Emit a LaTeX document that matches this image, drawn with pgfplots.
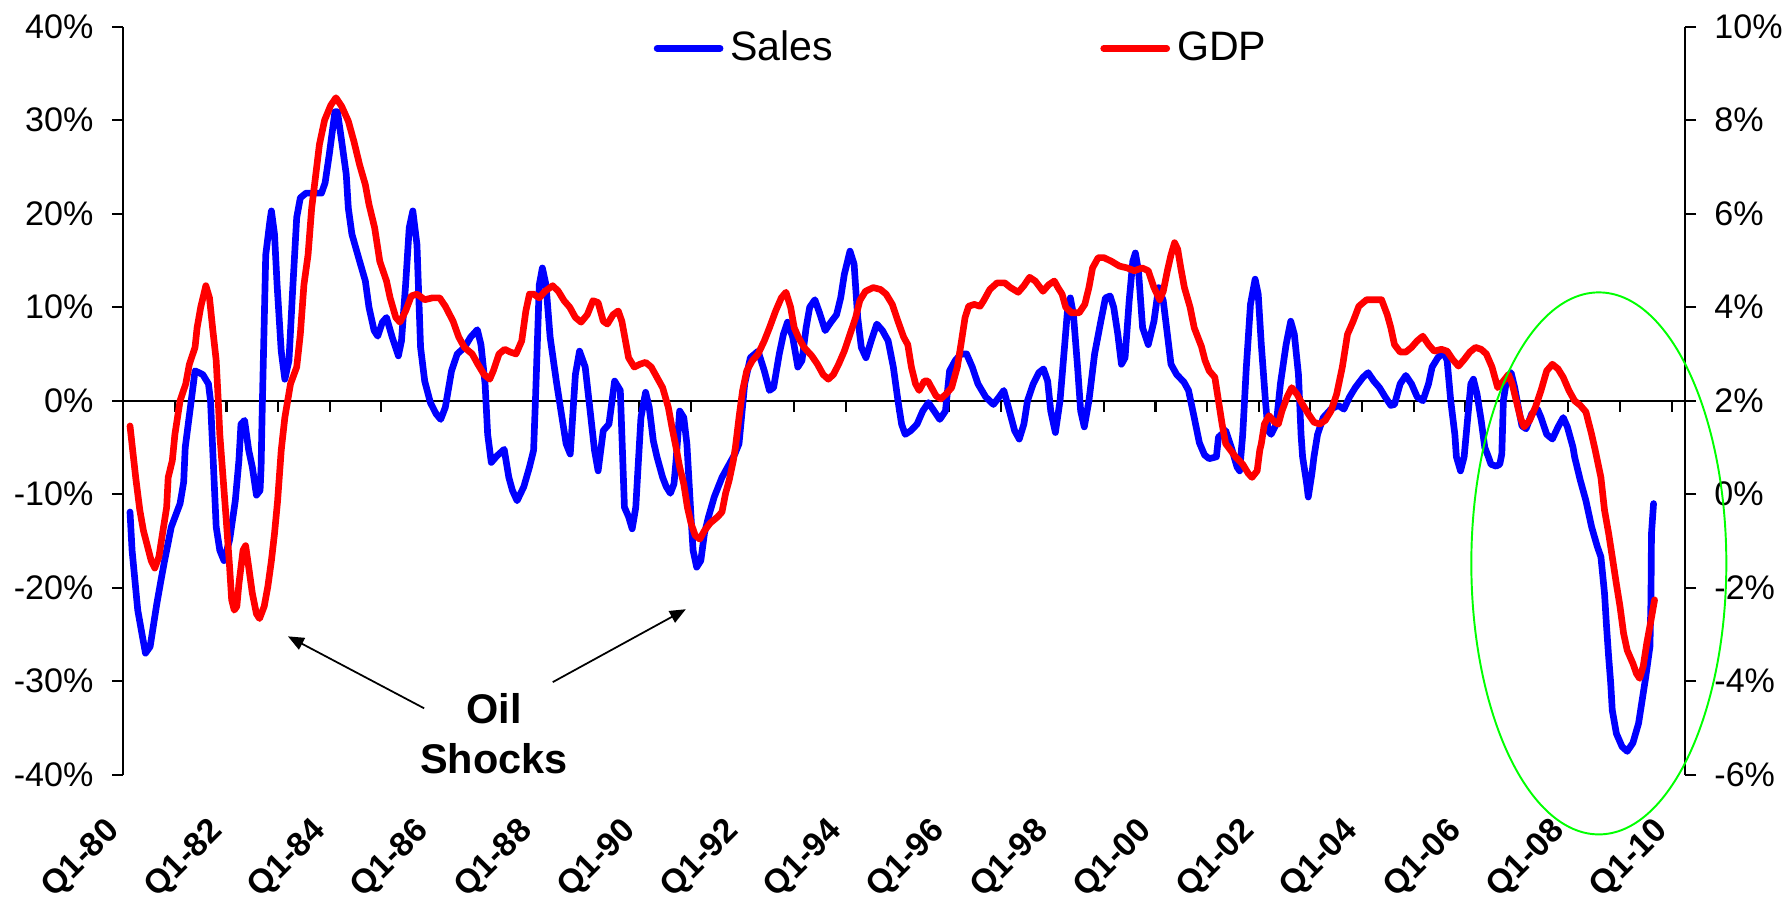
\documentclass[border=0pt]{standalone}
\usepackage{fontspec}
\setmainfont{Liberation Sans}
\usepackage{pgfplots}
\usepackage{pgfplotstable}
\pgfplotsset{compat=1.18}
\usetikzlibrary{arrows.meta}

\pgfplotstableread{
x y
1980.13 -11.9
1980.17 -16.0
1980.28 -22.4
1980.37 -25.2
1980.43 -27.0
1980.52 -26.3
1980.61 -23.1
1980.65 -21.7
1980.73 -19.2
1980.80 -17.1
1980.93 -13.5
1981.10 -11.0
1981.17 -8.7
1981.20 -5.0
1981.30 -0.7
1981.39 3.2
1981.54 2.8
1981.65 1.8
1981.69 0.0
1981.80 -13.5
1981.87 -16.0
1981.95 -17.1
1982.06 -14.9
1982.17 -10.7
1982.24 -6.4
1982.28 -2.5
1982.35 -2.1
1982.43 -5.3
1982.50 -7.1
1982.58 -10.1
1982.65 -9.6
1982.67 -7.1
1982.69 -1.4
1982.76 15.6
1982.84 19.2
1982.87 20.3
1982.93 17.8
1982.98 12.4
1983.06 5.3
1983.13 2.3
1983.21 4.3
1983.28 11.7
1983.36 19.6
1983.43 21.7
1983.54 22.2
1983.84 22.2
1983.91 23.3
1983.99 26.3
1984.10 30.9
1984.15 30.9
1984.24 27.4
1984.32 24.2
1984.36 20.6
1984.43 17.8
1984.58 14.9
1984.69 12.8
1984.76 10.0
1984.86 7.5
1984.93 6.9
1985.02 8.4
1985.10 8.9
1985.21 6.8
1985.33 4.8
1985.39 6.4
1985.47 12.4
1985.54 18.5
1985.61 20.3
1985.69 16.7
1985.76 5.7
1985.84 2.1
1985.95 -0.2
1986.06 -1.4
1986.15 -2.0
1986.24 -0.7
1986.36 3.2
1986.47 5.0
1986.61 5.7
1986.73 6.8
1986.86 7.6
1986.93 6.0
1987.01 1.8
1987.06 -3.6
1987.13 -6.6
1987.24 -5.9
1987.38 -5.2
1987.47 -8.2
1987.54 -9.6
1987.63 -10.7
1987.76 -9.2
1987.87 -7.1
1987.95 -5.3
1987.99 0.7
1988.06 12.4
1988.12 14.2
1988.19 12.4
1988.27 6.8
1988.39 2.1
1988.50 -1.8
1988.58 -4.6
1988.66 -5.7
1988.76 2.8
1988.84 5.3
1988.95 3.6
1989.06 -1.8
1989.13 -5.3
1989.20 -7.5
1989.30 -3.2
1989.41 -2.5
1989.52 2.1
1989.63 1.1
1989.71 -11.4
1989.79 -12.4
1989.86 -13.7
1989.93 -11.4
1989.97 -7.5
1990.03 -1.8
1990.12 0.9
1990.19 -0.7
1990.27 -4.3
1990.34 -6.0
1990.45 -8.2
1990.52 -9.2
1990.60 -9.9
1990.67 -8.9
1990.71 -6.4
1990.78 -1.1
1990.86 -1.8
1990.92 -4.6
1991.00 -12.4
1991.04 -16.0
1991.11 -17.8
1991.19 -17.1
1991.26 -14.2
1991.34 -12.4
1991.45 -10.3
1991.60 -8.2
1991.74 -6.8
1991.85 -5.7
1991.93 -4.6
1992.04 1.8
1992.15 4.6
1992.30 5.3
1992.42 3.2
1992.52 1.1
1992.60 1.4
1992.71 5.0
1992.79 7.1
1992.87 8.4
1992.97 6.8
1993.07 3.6
1993.15 4.3
1993.23 7.8
1993.30 10.0
1993.40 10.8
1993.49 9.4
1993.60 7.5
1993.71 8.4
1993.82 9.2
1993.90 11.0
1993.97 13.5
1994.08 16.0
1994.16 14.6
1994.23 8.9
1994.30 5.7
1994.39 4.6
1994.49 6.4
1994.60 8.2
1994.71 7.5
1994.82 6.4
1994.92 3.6
1995.01 0.0
1995.08 -2.5
1995.15 -3.6
1995.26 -3.2
1995.38 -2.5
1995.49 -1.1
1995.60 -0.2
1995.71 -1.1
1995.82 -2.0
1995.93 -1.1
1996.01 3.2
1996.12 4.3
1996.23 5.0
1996.34 5.0
1996.45 3.6
1996.56 1.8
1996.71 0.4
1996.86 -0.4
1996.97 0.4
1997.06 1.1
1997.15 -0.7
1997.27 -3.2
1997.36 -4.1
1997.45 -2.5
1997.52 0.0
1997.63 1.8
1997.74 3.0
1997.83 3.4
1997.91 2.1
1997.97 -1.1
1998.06 -3.4
1998.15 0.0
1998.23 5.3
1998.30 10.0
1998.35 11.0
1998.41 9.2
1998.49 3.6
1998.55 -1.1
1998.62 -2.8
1998.71 0.0
1998.82 5.0
1998.93 8.2
1999.03 11.0
1999.12 11.2
1999.19 10.0
1999.27 7.1
1999.34 3.9
1999.41 4.6
1999.49 10.7
1999.56 14.9
1999.61 15.8
1999.67 13.9
1999.75 7.8
1999.86 6.0
1999.97 8.5
2000.06 12.1
2000.15 10.7
2000.23 7.1
2000.30 3.9
2000.41 2.8
2000.55 2.0
2000.64 1.1
2000.75 -1.8
2000.85 -4.5
2000.95 -5.8
2001.04 -6.2
2001.18 -6.0
2001.22 -3.9
2001.36 -3.2
2001.47 -5.0
2001.58 -7.1
2001.63 -7.5
2001.69 -3.6
2001.76 3.6
2001.84 10.3
2001.93 13.0
2001.99 11.4
2002.05 6.0
2002.13 0.0
2002.18 -3.2
2002.24 -3.6
2002.34 -2.5
2002.42 1.8
2002.53 6.0
2002.62 8.5
2002.69 7.1
2002.77 2.8
2002.82 -3.6
2002.85 -6.0
2002.93 -8.9
2002.96 -10.3
2003.03 -7.8
2003.07 -6.0
2003.14 -3.6
2003.25 -1.8
2003.40 -0.9
2003.54 -0.5
2003.65 -0.9
2003.76 0.4
2003.87 1.4
2004.02 2.5
2004.12 3.0
2004.23 2.1
2004.34 1.4
2004.45 0.4
2004.56 -0.5
2004.63 -0.4
2004.74 1.8
2004.85 2.7
2004.96 1.8
2005.07 0.4
2005.18 0.0
2005.29 1.8
2005.36 3.6
2005.47 4.6
2005.58 5.2
2005.65 4.3
2005.72 0.0
2005.80 -3.6
2005.83 -6.0
2005.91 -7.5
2005.98 -6.0
2006.05 -1.8
2006.11 1.8
2006.16 2.3
2006.23 0.7
2006.31 -2.1
2006.38 -5.0
2006.45 -6.0
2006.50 -6.8
2006.60 -7.0
2006.67 -6.8
2006.71 -5.7
2006.74 0.0
2006.81 2.5
2006.89 3.0
2006.96 1.4
2007.03 -0.7
2007.10 -2.7
2007.18 -3.0
2007.29 -1.4
2007.40 -0.9
2007.47 -1.8
2007.58 -3.6
2007.69 -4.1
2007.80 -2.8
2007.90 -1.8
2007.98 -2.8
2008.09 -5.0
2008.12 -6.0
2008.23 -8.5
2008.34 -10.7
2008.45 -13.5
2008.56 -15.6
2008.63 -16.7
2008.70 -20.6
2008.74 -24.2
2008.78 -27.4
2008.82 -30.2
2008.85 -33.1
2008.93 -35.6
2009.04 -37.0
2009.14 -37.5
2009.25 -36.6
2009.36 -34.5
2009.43 -32.0
2009.50 -29.5
2009.58 -26.3
2009.60 -21.3
2009.61 -14.2
2009.65 -11.0
}\salestable

\pgfplotstableread{
x y
1980.13 1.46
1980.24 0.36
1980.32 -0.34
1980.39 -0.78
1980.47 -1.12
1980.54 -1.42
1980.61 -1.58
1980.69 -1.34
1980.76 -0.84
1980.84 -0.28
1980.87 0.36
1980.95 0.72
1981.00 1.28
1981.10 2.00
1981.21 2.36
1981.28 2.78
1981.39 3.14
1981.43 3.56
1981.50 4.00
1981.60 4.46
1981.67 4.20
1981.73 3.56
1981.80 2.86
1981.84 2.00
1981.87 1.28
1981.99 -0.48
1982.06 -1.56
1982.10 -2.26
1982.15 -2.48
1982.20 -2.40
1982.24 -1.92
1982.32 -1.20
1982.37 -1.10
1982.43 -1.56
1982.50 -2.12
1982.58 -2.56
1982.64 -2.66
1982.73 -2.40
1982.80 -1.98
1982.87 -1.42
1982.93 -0.84
1982.99 -0.14
1983.06 0.94
1983.13 1.64
1983.24 2.36
1983.36 2.72
1983.43 3.42
1983.50 4.48
1983.58 5.12
1983.65 6.12
1983.73 6.84
1983.80 7.48
1983.90 8.00
1984.02 8.32
1984.12 8.48
1984.23 8.30
1984.36 7.98
1984.47 7.54
1984.58 7.04
1984.69 6.62
1984.76 6.20
1984.87 5.70
1984.97 4.98
1985.10 4.56
1985.17 4.20
1985.28 3.78
1985.36 3.68
1985.47 3.92
1985.58 4.24
1985.69 4.28
1985.84 4.16
1985.99 4.20
1986.13 4.20
1986.24 4.02
1986.39 3.70
1986.50 3.36
1986.61 3.14
1986.76 3.00
1986.87 2.78
1986.99 2.56
1987.10 2.46
1987.17 2.64
1987.28 3.00
1987.39 3.10
1987.50 3.04
1987.61 3.00
1987.72 3.28
1987.80 3.92
1987.87 4.28
1987.95 4.28
1988.06 4.20
1988.17 4.34
1988.32 4.46
1988.43 4.34
1988.54 4.14
1988.65 4.00
1988.76 3.78
1988.87 3.68
1988.99 3.84
1989.10 4.14
1989.20 4.10
1989.30 3.70
1989.38 3.64
1989.49 3.84
1989.59 3.92
1989.66 3.70
1989.73 3.28
1989.79 2.92
1989.90 2.72
1990.01 2.78
1990.12 2.82
1990.23 2.72
1990.34 2.50
1990.45 2.28
1990.56 1.86
1990.63 1.44
1990.71 1.00
1990.78 0.58
1990.86 0.22
1990.93 -0.28
1991.00 -0.62
1991.08 -0.88
1991.17 -0.96
1991.26 -0.78
1991.37 -0.62
1991.52 -0.48
1991.60 -0.38
1991.67 0.02
1991.74 0.30
1991.82 0.72
1991.86 1.00
1991.93 1.64
1992.00 2.22
1992.08 2.64
1992.19 2.86
1992.30 3.00
1992.42 3.28
1992.52 3.56
1992.64 3.92
1992.75 4.20
1992.84 4.32
1992.93 4.00
1993.00 3.56
1993.08 3.36
1993.19 3.14
1993.34 2.96
1993.45 2.78
1993.56 2.56
1993.66 2.46
1993.76 2.56
1993.86 2.78
1993.97 3.06
1994.08 3.42
1994.19 3.78
1994.27 4.14
1994.38 4.34
1994.53 4.42
1994.67 4.38
1994.78 4.28
1994.90 4.06
1995.01 3.70
1995.12 3.36
1995.20 3.20
1995.27 2.72
1995.35 2.36
1995.42 2.22
1995.52 2.42
1995.59 2.42
1995.68 2.24
1995.75 2.10
1995.84 2.04
1995.94 2.14
1996.05 2.28
1996.16 2.72
1996.23 3.20
1996.31 3.78
1996.38 4.02
1996.49 4.06
1996.60 4.02
1996.67 4.14
1996.79 4.38
1996.93 4.52
1997.08 4.52
1997.19 4.42
1997.34 4.32
1997.45 4.46
1997.56 4.64
1997.67 4.56
1997.82 4.34
1997.93 4.48
1998.04 4.56
1998.11 4.42
1998.19 4.28
1998.26 4.00
1998.37 3.88
1998.52 3.88
1998.63 4.06
1998.71 4.42
1998.78 4.84
1998.89 5.06
1999.00 5.06
1999.15 4.98
1999.30 4.88
1999.45 4.84
1999.59 4.78
1999.74 4.84
1999.86 4.78
1999.97 4.42
2000.08 4.16
2000.15 4.34
2000.23 4.78
2000.30 5.12
2000.37 5.38
2000.43 5.24
2000.49 4.84
2000.56 4.42
2000.67 4.00
2000.75 3.56
2000.89 3.16
2000.96 2.86
2001.04 2.64
2001.15 2.50
2001.22 2.00
2001.29 1.50
2001.36 1.08
2001.55 0.80
2001.69 0.64
2001.80 0.44
2001.87 0.36
2001.97 0.50
2002.02 0.94
2002.05 1.08
2002.11 1.50
2002.20 1.68
2002.31 1.54
2002.38 1.50
2002.45 1.78
2002.55 2.08
2002.64 2.28
2002.74 2.14
2002.85 1.92
2002.96 1.72
2003.07 1.54
2003.18 1.50
2003.29 1.58
2003.40 1.78
2003.51 2.14
2003.62 2.72
2003.72 3.42
2003.83 3.70
2003.94 4.02
2004.09 4.16
2004.23 4.16
2004.38 4.16
2004.49 3.84
2004.56 3.56
2004.63 3.20
2004.74 3.04
2004.85 3.04
2004.96 3.14
2005.07 3.28
2005.18 3.38
2005.29 3.20
2005.40 3.06
2005.54 3.10
2005.65 3.06
2005.76 2.88
2005.87 2.74
2005.98 2.88
2006.09 3.04
2006.20 3.14
2006.31 3.10
2006.41 3.00
2006.52 2.72
2006.63 2.28
2006.74 2.42
2006.84 2.56
2006.91 2.36
2006.99 2.00
2007.07 1.64
2007.14 1.44
2007.25 1.58
2007.36 1.86
2007.47 2.22
2007.58 2.64
2007.69 2.78
2007.80 2.68
2007.90 2.50
2008.01 2.22
2008.12 2.00
2008.23 1.90
2008.34 1.76
2008.45 1.28
2008.52 0.94
2008.63 0.36
2008.70 -0.34
2008.78 -0.84
2008.85 -1.34
2008.93 -1.92
2009.00 -2.40
2009.07 -2.98
2009.14 -3.34
2009.25 -3.62
2009.32 -3.84
2009.38 -3.94
2009.45 -3.68
2009.52 -3.18
2009.60 -2.70
2009.67 -2.26
}\gdptable

\begin{document}
\begin{tikzpicture}
\path[use as bounding box] (-12.33mm,-12.53mm) rectangle (166.47mm,77.47mm);

% Left axis: Sales
\begin{axis}[
  at={(0mm,0mm)}, anchor=south west,
  scale only axis, width=156.17mm, height=74.8mm,
  xmin=1980, xmax=2010.26, ymin=-40, ymax=40,
  axis x line*=middle, axis y line*=left,
  axis line style={line width=0.6pt, black},
  tick align=center, major tick length=1.1mm,
  xtick={1980,1981,...,2010}, xticklabels={},
  xtick style={yshift=-0.55mm, line width=0.6pt, black},
  ytick={-40,-30,...,40},
  yticklabels={-40\%,-30\%,-20\%,-10\%,0\%,10\%,20\%,30\%,40\%},
  ytick style={xshift=-0.55mm, line width=0.6pt, black},
  yticklabel style={font=\fontsize{9.7}{11}\selectfont, xshift=-1.2mm},
  clip=false,
]
\addplot[blue, line width=1.9pt, line join=round, line cap=round] table {\salestable};
\draw[-{Triangle[length=1.6mm,width=1.3mm]}, line width=0.5pt] (axis cs:1985.83,-32.9) -- (axis cs:1983.19,-25.2);
\draw[-{Triangle[length=1.6mm,width=1.3mm]}, line width=0.5pt] (axis cs:1988.32,-30.1) -- (axis cs:1990.90,-22.3);
\node[align=center, font=\bfseries\fontsize{11.8}{14.2}\selectfont, inner sep=0pt] at (axis cs:1987.18,-35.6) {Oil\\Shocks};
\end{axis}

% Right axis: GDP
\begin{axis}[
  at={(0mm,0mm)}, anchor=south west,
  scale only axis, width=156.17mm, height=74.8mm,
  xmin=1980, xmax=2010.26, ymin=-6, ymax=10,
  axis x line*=bottom, axis y line*=right,
  x axis line style={draw=none},
  y axis line style={line width=0.6pt, black},
  tick align=outside, major tick length=1.1mm,
  xtick={1980,1982,...,2010},
  xticklabels={Q1-80,Q1-82,Q1-84,Q1-86,Q1-88,Q1-90,Q1-92,Q1-94,Q1-96,Q1-98,Q1-00,Q1-02,Q1-04,Q1-06,Q1-08,Q1-10},
  xtick style={draw=none},
  xticklabel style={rotate=45, anchor=east, font=\bfseries\fontsize{9.6}{11}\selectfont},
  xticklabel shift=3.2mm,
  ytick={-6,-4,...,10},
  yticklabels={-6\%,-4\%,-2\%,0\%,2\%,4\%,6\%,8\%,10\%},
  ytick style={line width=0.6pt, black},
  yticklabel style={font=\fontsize{9.7}{11}\selectfont, xshift=0.6mm},
  clip=false,
  legend columns=2,
  legend style={at={(0.538,0.971)}, anchor=center, draw=none, fill=none,
    font=\fontsize{11.7}{13}\selectfont,
    /tikz/every even column/.append style={column sep=26mm}},
  legend image code/.code={\draw[#1, line cap=round] (0mm,0mm) -- (6.3mm,0mm);},
]
\addlegendimage{blue, line width=1.9pt}
\addlegendentry{Sales}
\addplot[red, line width=1.9pt, line join=round, line cap=round] table {\gdptable};
\addlegendentry{GDP}
\draw[green, line width=0.55pt] (axis cs:2008.59,-1.48) ellipse [x radius=12.75mm, y radius=27.1mm];
\end{axis}
\end{tikzpicture}
\end{document}
